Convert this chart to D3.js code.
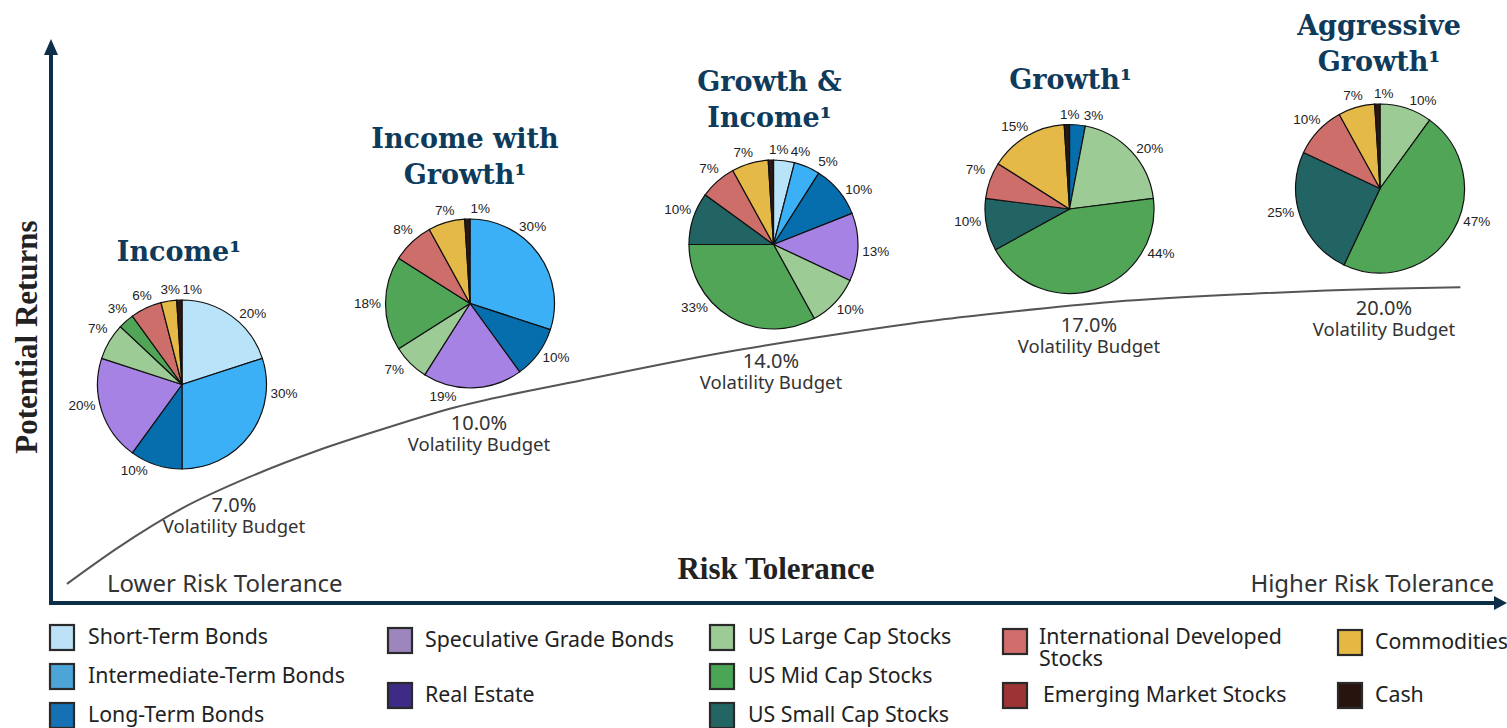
<!DOCTYPE html>
<html><head><meta charset="utf-8">
<script src="https://cdn.jsdelivr.net/npm/d3@7"></script>
<style>body{margin:0;background:#fff;} svg{display:block;}</style>
</head><body>
<svg id="c" width="1507" height="728"></svg>
<script>
// ---------------- DATA ----------------
const categories = ["Short-Term Bonds","Intermediate-Term Bonds","Long-Term Bonds","Speculative Grade Bonds","Real Estate",
  "US Large Cap Stocks","US Mid Cap Stocks","US Small Cap Stocks","International Developed Stocks","Emerging Market Stocks",
  "Commodities","Cash"];
const portfolios = ["Income","Income with Growth","Growth & Income","Growth","Aggressive Growth"];
const volatility = [7.0, 10.0, 14.0, 17.0, 20.0];
// allocations (%) in category order
const incomeAlloc       = [20,30,10,20,0, 7, 3, 0, 6,0, 3,1];
const incomeGrowthAlloc = [ 0,30,10,19,0, 7,18, 0, 8,0, 7,1];
const growthIncomeAlloc = [ 4, 5,10,13,0,10,33,10, 7,0, 7,1];
const growthAlloc       = [ 0, 0, 3, 0,0,20,44,10, 7,0,15,1];
const aggressiveAlloc   = [ 0, 0, 0, 0,0,10,47,25,10,0, 7,1];
// conceptual risk/return curve (abstract units 0-100)
const curveRisk   = [1.1,4.6,9.1,13.7,18.3,22.9,27.5,36.7,46.6,53.9,61.3,65.4,73.3,82.6,91.9,97.2];
const curveReturn = [3.4,9.8,16.9,22.4,27.0,30.9,34.5,39.6,44.6,47.6,50.3,51.5,53.5,54.9,55.8,56.1];

// ---------------- STYLE / LAYOUT ----------------
const pieColors = ["#b9e3f9","#3cb0f6","#066eac","#a682e4","#3e2b86","#9ccb95","#50a556","#226464","#ce6e6b","#9c3534","#e5b947","#2b1714"];
const legendColors = ["#bde1f6","#4ca4d7","#1670b4","#9d86be","#3e2b86","#9ccb95","#4aa655","#226563","#d16e6c","#9b3433","#e4b843","#27140f"];
const allocs = [incomeAlloc, incomeGrowthAlloc, growthIncomeAlloc, growthAlloc, aggressiveAlloc];
const titleLines = [["Income"],["Income with","Growth"],["Growth &","Income"],["Growth"],["Aggressive","Growth"]];
const pieCenters = [[182,384.5],[470,303.5],[773.5,244.5],[1069.5,209],[1380,188.5]];
const titleDx = [-3,-5,-4,1,-1];
const titleGap = [39,35,33,36,33];
const volPos = [[234,512],[479,430],[771,368],[1089,332],[1384,315]];
const labelNudge = [
  [9,-31,11,6,3,1,1,2,8],
  [-15,-4,18,4,0,1,1,8],
  [9,10,7,2,-3,21,2,1,-2,5],
  [9,6,-46,4,3,-3,2],
  [8,-12,6,0,0,4]
];
const R = 84.5;
const navy = "#0e3a5c";
const axisColor = "#0c2e47";

const svg = d3.select("#c");
const xScale = d3.scaleLinear().domain([0,100]).range([51,1501]);
const yScale = d3.scaleLinear().domain([0,100]).range([603,40]);

// curve
const line = d3.line().x((d,i)=>xScale(curveRisk[i])).y((d,i)=>yScale(curveReturn[i])).curve(d3.curveMonotoneX);
svg.append("path").attr("d", line(curveRisk)).attr("fill","none").attr("stroke","#555").attr("stroke-width",2);

// axes
svg.append("line").attr("x1",51).attr("y1",605).attr("x2",51).attr("y2",50).attr("stroke",axisColor).attr("stroke-width",4);
svg.append("path").attr("d","M44,55 L51,39 L58,55 Z").attr("fill",axisColor);
svg.append("line").attr("x1",49).attr("y1",603).attr("x2",1496).attr("y2",603).attr("stroke",axisColor).attr("stroke-width",4);
svg.append("path").attr("d","M1494,596 L1507,603 L1494,610 Z").attr("fill",axisColor);

svg.append("text").attr("transform","translate(37,337) rotate(-90)").attr("text-anchor","middle")
  .attr("font-family","Liberation Serif").attr("font-weight","bold").attr("font-size",31).attr("fill","#222")
  .text("Potential Returns");
svg.append("text").attr("x",776).attr("y",579).attr("text-anchor","middle")
  .attr("font-family","Liberation Serif").attr("font-weight","bold").attr("font-size",31).attr("fill","#222")
  .text("Risk Tolerance");
svg.append("text").attr("x",107).attr("y",592).attr("font-family","Noto Sans").attr("font-size",24).attr("fill","#333").text("Lower Risk Tolerance");
svg.append("text").attr("x",1494).attr("y",592).attr("text-anchor","end").attr("font-family","Noto Sans").attr("font-size",24).attr("fill","#333").text("Higher Risk Tolerance");

// pies
const pie = d3.pie().sort(null).value(d=>d.value);
const arc = d3.arc().innerRadius(0).outerRadius(R);
portfolios.forEach((name, p) => {
  const [cx, cy] = pieCenters[p];
  const g = svg.append("g").attr("transform",`translate(${cx},${cy})`);
  const data = allocs[p].map((v,i)=>({cat:i, value:v})).filter(d=>d.value>0);
  const arcs = pie(data);
  g.selectAll("path").data(arcs).join("path")
    .attr("d", arc).attr("fill", d=>pieColors[d.data.cat]).attr("stroke","#111").attr("stroke-width",1.2);
  g.selectAll("text.lbl").data(arcs).join("text").attr("class","lbl")
    .each(function(d,i){
      const a = (d.startAngle + d.endAngle)/2 + (labelNudge[p][i]||0)*Math.PI/180;
      const dist = R + 10 + 8*Math.abs(Math.sin(a));
      d3.select(this).attr("x", dist*Math.sin(a)).attr("y", -dist*Math.cos(a));
    })
    .attr("text-anchor","middle").attr("dominant-baseline","central")
    .attr("font-family","Liberation Sans").attr("font-size",13.5).attr("fill","#222")
    .text(d=>d.data.value+"%");
  // title
  const lines = titleLines[p];
  const baseY = cy - R - titleGap[p];
  const title = svg.append("text").attr("text-anchor","middle").attr("font-family","DejaVu Serif").attr("font-weight","bold")
      .attr("font-size",27).attr("fill",navy);
  lines.forEach((t, li) => {
    const ts = title.append("tspan").attr("x", cx + titleDx[p]).attr("y", baseY - (lines.length-1-li)*36)
      .text(t + (li === lines.length-1 ? "\u00B9" : ""));
  });
  // volatility label (one text, two lines)
  const [vx, vy] = volPos[p];
  const vt = svg.append("text").attr("text-anchor","middle").attr("font-family","Noto Sans").attr("fill","#333");
  vt.append("tspan").attr("x",vx).attr("y",vy).attr("font-size",20).text(volatility[p].toFixed(1)+"%");
  vt.append("tspan").attr("x",vx).attr("y",vy+21).attr("font-size",18.5).text("Volatility Budget");
});

// legend
const legendPos = [[49,637],[49,676],[49,715],[387,640],[387,695],[709,637],[709,676],[709,715],[1002,641],[1002,695],[1337,642],[1337,695]];
const legendTextDx = [39,39,39,38,38,39,39,39,37,41,38,38];
const lf = 21.3;
categories.forEach((c,i)=>{
  const [lx, ly] = legendPos[i];
  svg.append("rect").attr("x",lx+1).attr("y",ly-12).attr("width",24).attr("height",25)
    .attr("fill",legendColors[i]).attr("stroke","#2a2a2a").attr("stroke-width",2.2);
  const t = svg.append("text").attr("font-family","Noto Sans").attr("font-size",lf).attr("fill","#222");
  if (c === "International Developed Stocks") {
    t.append("tspan").attr("x",lx+legendTextDx[i]).attr("y", ly+3).text("International Developed");
    t.append("tspan").attr("x",lx+legendTextDx[i]).attr("y", ly+25).text("Stocks");
  } else {
    t.attr("x",lx+legendTextDx[i]).attr("y", ly+7).text(c);
  }
});
</script>
</body></html>
